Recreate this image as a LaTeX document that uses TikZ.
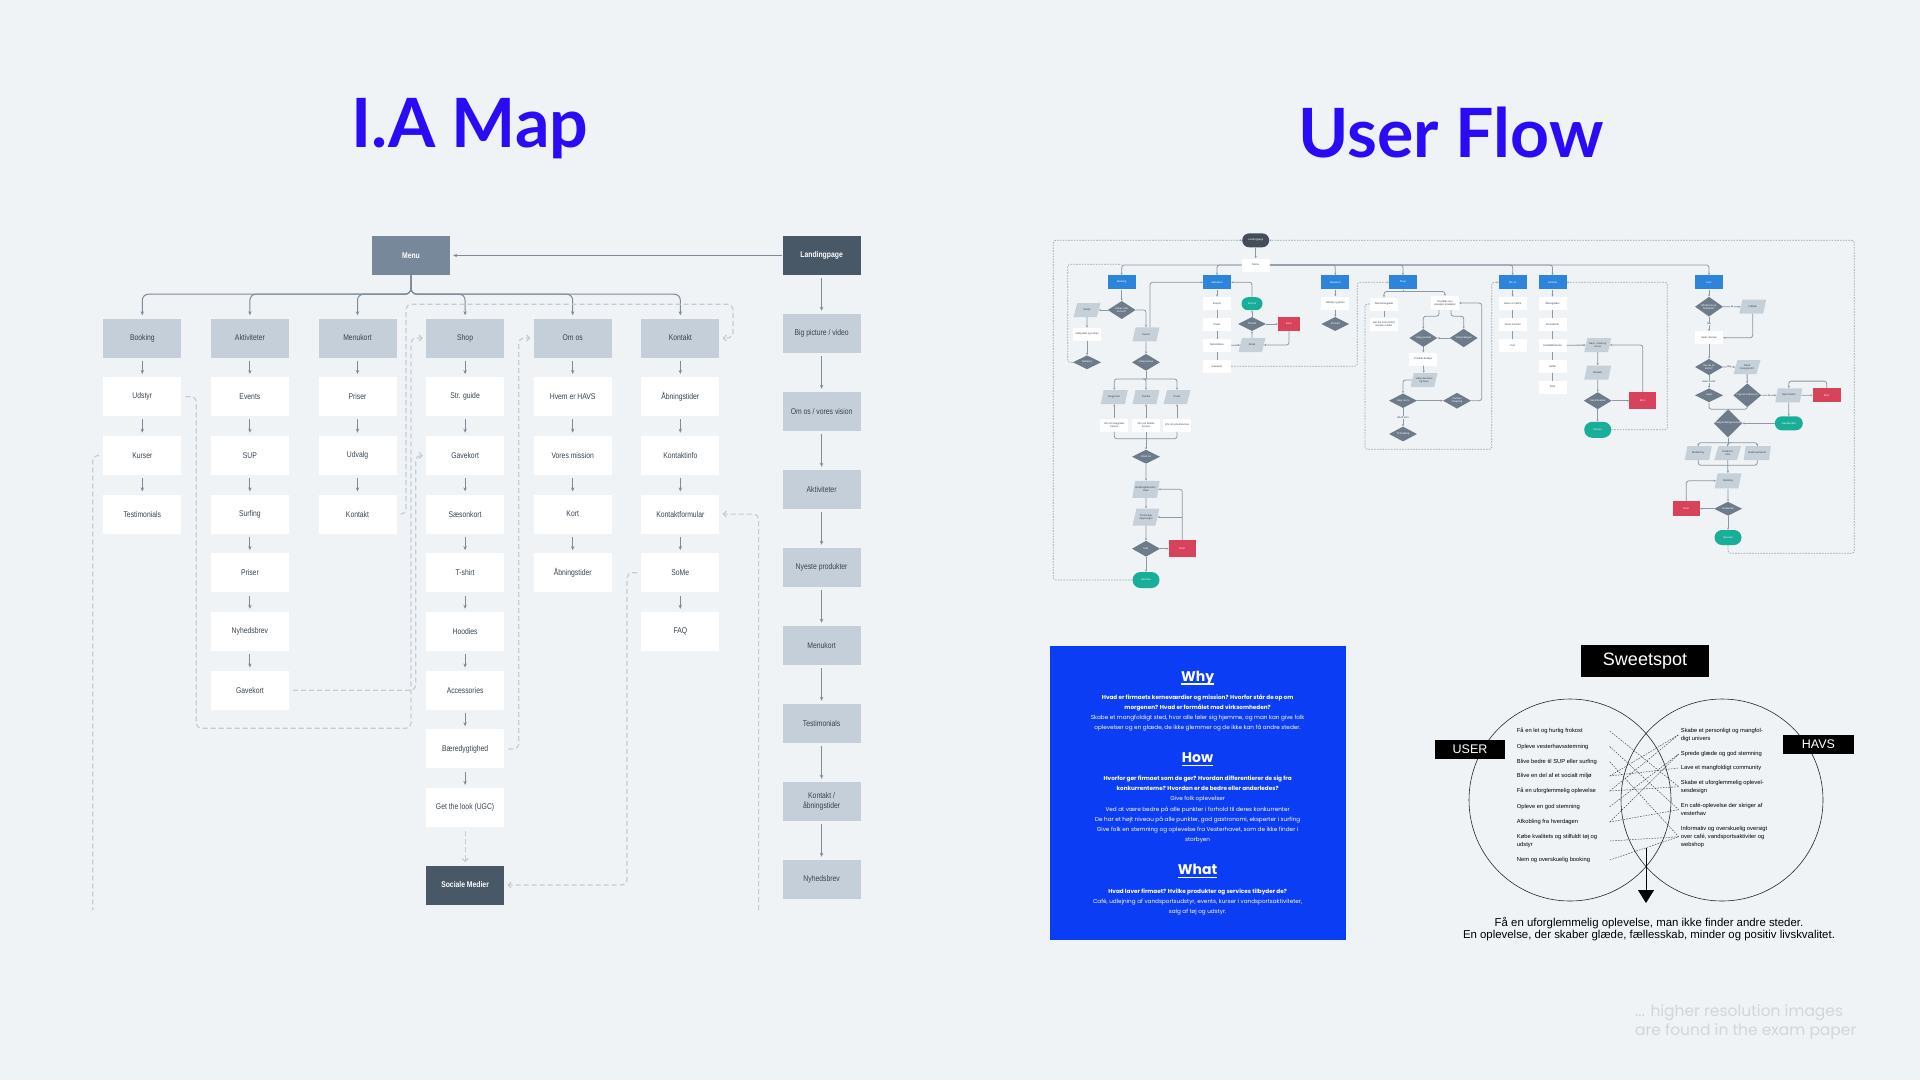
\documentclass[tikz,border=0pt]{standalone}
\usepackage{fontspec}
\setmainfont{Liberation Sans}
\newfontfamily\iafont[FakeStretch=0.82]{Liberation Sans}
\newfontfamily\titlefont{Lato}
\newfontfamily\popfont{Poppins}
\usetikzlibrary{arrows.meta,shapes.geometric,calc}

\definecolor{bgc}{HTML}{EFF3F6}
\definecolor{titleblue}{HTML}{2A0BF5}
\definecolor{hdrgray}{HTML}{C4CFD9}
\definecolor{menugray}{HTML}{77889A}
\definecolor{darkslate}{HTML}{485866}
\definecolor{linegray}{HTML}{7D8B99}
\definecolor{dashgray}{HTML}{C3CDD7}
\definecolor{txtgray}{HTML}{36434F}
\definecolor{flowblue}{HTML}{2D84DB}
\definecolor{flowdia}{HTML}{6D7B8A}
\definecolor{flowpara}{HTML}{C6D0D9}
\definecolor{flowred}{HTML}{D6435A}
\definecolor{flowgreen}{HTML}{19AE98}
\definecolor{flowpill}{HTML}{434E59}
\definecolor{flowline}{HTML}{8C98A4}
\definecolor{flowdash}{HTML}{9AA4AE}
\definecolor{whybg}{HTML}{0B3DF5}
\definecolor{notegray}{HTML}{D2D6DB}

\newcommand{\uffont}{\fontsize{2.6}{3}\selectfont}
\newcommand{\iasize}{\iafont\fontsize{8.3}{9.8}\selectfont}

\begin{document}
\begin{tikzpicture}[x=1pt,y=-1pt,>={Stealth[length=4pt,width=3.4pt]},
	iabox/.style={rectangle, minimum width=78pt, minimum height=39pt, inner sep=1pt,
		fill=white, text=txtgray, font=\iasize, align=center},
	iahead/.style={iabox, fill=hdrgray},
	iadark/.style={iabox, fill=darkslate, text=white, font=\iasize\bfseries},
	iaarrow/.style={->, draw=linegray, line width=1pt, shorten >=3pt, shorten <=3pt},
	iadash/.style={draw=dashgray, line width=1.2pt, dash pattern=on 5pt off 3pt,
		rounded corners=5pt, shorten >=3pt, shorten <=4pt,
		-{Straight Barb[length=3pt,width=6pt]}},
	ufhd/.style={rectangle, fill=flowblue, minimum width=28pt, minimum height=14pt,
		inner sep=0.5pt, font=\uffont, text=white},
	ufbx/.style={rectangle, fill=white, minimum width=28pt, minimum height=13pt,
		inner sep=0.5pt, font=\uffont, text=txtgray, align=center},
	ufdi/.style={diamond, fill=flowdia, minimum width=28pt, minimum height=14pt,
		inner sep=0pt, font=\uffont, text=white, align=center},
	ufpa/.style={trapezium, trapezium left angle=65, trapezium right angle=115,
		trapezium stretches=true, fill=flowpara, minimum width=27pt, minimum height=14pt,
		inner sep=0.5pt, font=\uffont, text=txtgray, align=center},
	ufer/.style={rectangle, fill=flowred, minimum width=27pt, minimum height=17pt,
		inner sep=0.5pt, font=\uffont, text=white},
	ufok/.style={rectangle, rounded corners=8pt, fill=flowgreen, minimum width=27pt,
		minimum height=16pt, inner sep=0.5pt, font=\uffont, text=white},
	ufpill/.style={rectangle, rounded corners=7pt, fill=flowpill, minimum width=27pt,
		minimum height=14pt, inner sep=0.5pt, font=\uffont, text=white},
	uflb/.style={fill=bgc, inner sep=0.4pt, font=\uffont, text=txtgray},
	ufln/.style={draw=flowline, line width=0.8pt, rounded corners=2.5pt},
	ufar/.style={ufln, -{Stealth[length=2.2pt,width=2pt]}},
	ufds/.style={draw=flowdash, line width=0.7pt, dash pattern=on 1.6pt off 1.2pt,
		rounded corners=2.5pt, -{Stealth[length=2pt,width=2pt]}},
	vtxt/.style={anchor=west, inner sep=0pt, align=left, font=\fontsize{5.8}{7.8}\selectfont},
	vdash/.style={draw=black!75, line width=0.45pt, dash pattern=on 1.6pt off 1.2pt},
	tag/.style={fill=black, text=white, inner sep=0pt}]
	
	\useasboundingbox (0,0) rectangle (1920,1080);
	\fill[bgc] (0,0) rectangle (1920,1080);
	
	%----------------------------
	% Titles
	%----------------------------
	\node[anchor=base, inner sep=0pt, text=titleblue, font=\titlefont\bfseries\fontsize{68}{70}\selectfont]
		(iatitle) at (470,147) {I.A Map};
	\node[anchor=base, inner sep=0pt, text=titleblue, font=\titlefont\bfseries\fontsize{68}{70}\selectfont]
		(uftitle) at (1451,157) {User Flow};
	
	%----------------------------
	% Left: I.A map
	%----------------------------
	\node[iabox, fill=menugray, text=white, font=\iasize\bfseries] (menu) at (411,255.5) {Menu};
	\node[iadark] (land) at (821.6,255.5) {Landingpage};
	\draw[iaarrow, shorten <=0pt] (land) -- (menu);
	
	% columns under the menu
	\node[iahead] (bk0) at (142.3,338) {Booking};
	\foreach \t [count=\i] in {Udstyr,Kurser,Testimonials}
		\node[iabox] (bk\i) at (142.3,338+58.7*\i) {\t};
	\foreach \i [evaluate=\i as \j using int(\i+1)] in {0,...,2}
		\draw[iaarrow] (bk\i) -- (bk\j);
	
	\node[iahead] (ak0) at (249.9,338) {Aktiviteter};
	\foreach \t [count=\i] in {Events,SUP,Surfing,Priser,Nyhedsbrev,Gavekort}
		\node[iabox] (ak\i) at (249.9,338+58.7*\i) {\t};
	\foreach \i [evaluate=\i as \j using int(\i+1)] in {0,...,5}
		\draw[iaarrow] (ak\i) -- (ak\j);
	
	\node[iahead] (mk0) at (357.5,338) {Menukort};
	\foreach \t [count=\i] in {Priser,Udvalg,Kontakt}
		\node[iabox] (mk\i) at (357.5,338+58.7*\i) {\t};
	\foreach \i [evaluate=\i as \j using int(\i+1)] in {0,...,2}
		\draw[iaarrow] (mk\i) -- (mk\j);
	
	\node[iahead] (sh0) at (465.1,338) {Shop};
	\foreach \t [count=\i] in {Str. guide,Gavekort,Sæsonkort,T-shirt,Hoodies,Accessories,Bæredygtighed,Get the look (UGC)}
		\node[iabox] (sh\i) at (465.1,338+58.7*\i) {\t};
	\foreach \i [evaluate=\i as \j using int(\i+1)] in {0,...,7}
		\draw[iaarrow] (sh\i) -- (sh\j);
	\node[iadark] (soc) at (465.1,885) {Sociale Medier};
	
	\node[iahead] (om0) at (572.7,338) {Om os};
	\foreach \t [count=\i] in {Hvem er HAVS,Vores mission,Kort,Åbningstider}
		\node[iabox] (om\i) at (572.7,338+58.7*\i) {\t};
	\foreach \i [evaluate=\i as \j using int(\i+1)] in {0,...,3}
		\draw[iaarrow] (om\i) -- (om\j);
	
	\node[iahead] (kt0) at (680.3,338) {Kontakt};
	\foreach \t [count=\i] in {Åbningstider,Kontaktinfo,Kontaktformular,SoMe,FAQ}
		\node[iabox] (kt\i) at (680.3,338+58.7*\i) {\t};
	\foreach \i [evaluate=\i as \j using int(\i+1)] in {0,...,4}
		\draw[iaarrow] (kt\i) -- (kt\j);
	
	% menu tree
	\foreach \c in {bk0,ak0,mk0,sh0,om0,kt0}
		\draw[iaarrow, rounded corners=6pt, shorten <=0pt] (menu.south) -- ++(0,19) -| (\c.north);
	
	% landing page column
	\foreach \t [count=\i] in {Big picture / video,Om os / vores vision,Aktiviteter,Nyeste produkter,Menukort,Testimonials,{Kontakt /\\åbningstider},Nyhedsbrev}
		\node[iahead] (lp\i) at (821.6,255.5+78*\i) {\t};
	\draw[iaarrow] (land) -- (lp1);
	\foreach \i [evaluate=\i as \j using int(\i+1)] in {1,...,7}
		\draw[iaarrow] (lp\i) -- (lp\j);
	
	% dashed cross links
	\coordinate (bkout) at (92.8,910);
	\coordinate (ktout) at (758.6,910);
	\draw[iadash] (bk1.east) -| (196.3,728.3) -| (411,338) -- (sh0.west);
	\draw[iadash] (ak6.east) -| (415.7,455.4) -- (sh2.west);
	\draw[iadash] (mk3.east) -| (406,304.3) -| (733,338) -- (kt0.east);
	\draw[iadash] (sh7.east) -| (518.8,338) -- (om0.west);
	\draw[iadash] (kt4.west) -| (627,885) -- (soc.east);
	\draw[iadash] (sh8) -- (soc);
	\draw[iadash, -, shorten >=0pt] (bk2.west) -| (bkout);
	\draw[iadash, shorten <=0pt] (ktout) |- (kt3.east);
	
	%----------------------------
	% Right top: user flow
	%----------------------------
	\node[ufpill] (lp) at (1255.7,240.3) {Landingpage};
	\node[ufbx] (mn) at (1255.7,265) {Menu};
	\draw[ufar] (lp) -- (mn);
	\node[ufhd] (hbk) at (1121.7,282.3) {Booking};
	\node[ufhd] (hak) at (1217,282.3) {Aktiviteter};
	\node[ufhd] (hmk) at (1335.3,282.3) {Menukort};
	\node[ufhd] (hsh) at (1403,282.3) {Shop};
	\node[ufhd] (hom) at (1512.7,282.3) {Om os};
	\node[ufhd] (hkt) at (1552.5,282.3) {Kontakt};
	\node[ufhd] (hkv) at (1709,282.3) {Kurv};
	\foreach \h in {hbk,hak}
		\draw[ufar] (mn.west) -| (\h.north);
	\foreach \h in {hmk,hsh,hom,hkt,hkv}
		\draw[ufar] (mn.east) -| (\h.north);
	
	% booking
	\node[ufdi] (bkd1) at (1121.7,310) {Udstyr eller\\kursus?};
	\node[ufpa] (bkp1) at (1087,310) {Udstyr};
	\node[ufbx] (bkb1) at (1087,334.3) {Vælg dato og udstyr};
	\node[ufdi] (bkd2) at (1087,362.3) {Betaling};
	\node[ufpa] (bkp2) at (1146,334.3) {Kurser};
	\node[ufdi] (bkd3) at (1146,362.3) {Vælg kursus};
	\node[ufpa] (bkq1) at (1114.3,397) {Begynder};
	\node[ufpa] (bkq2) at (1146,397) {Familie};
	\node[ufpa] (bkq3) at (1177,397) {Privat};
	\node[ufbx] (bkw1) at (1114.3,425) {Info om begynder\\kursus};
	\node[ufbx] (bkw2) at (1146,425) {Info om familie\\kursus};
	\node[ufbx] (bkw3) at (1177,425) {Info om privat kursus};
	\node[ufdi] (bkd4) at (1146,456.7) {Book tid};
	\node[ufpa, minimum height=17pt] (bkp3) at (1146,489.3) {Bookingkalender /\\Dato};
	\node[ufpa, minimum height=17pt] (bkp4) at (1146,517) {Personlige\\oplysninger};
	\node[ufdi, minimum height=16pt] (bkd5) at (1146,548.7) {Køb};
	\node[ufer] (bker) at (1182.3,548.7) {Error};
	\node[ufok] (bkok) at (1146,580) {Success};
	\draw[ufar] (hbk) -- (bkd1);
	\draw[ufar] (bkd1) -- (bkp1);
	\draw[ufar] (bkp1) -- (bkb1);
	\draw[ufar] (bkb1) -- (bkd2);
	\draw[ufds, -] (bkd2.west) -| (1067.7,264.3) -- (1121.7,264.3);
	\draw[ufar] (bkd1.east) -| (bkp2.north);
	\draw[ufar] ([xshift=4pt]bkp2.north) |- (hak.west);
	\draw[ufar] (bkp2) -- (bkd3);
	\draw[ufln] (bkd3.south) -- ++(0,8) coordinate (bkbr);
	\foreach \q in {bkq1,bkq2,bkq3}
		\draw[ufar] (bkbr) -| (\q.north);
	\foreach \i in {1,2,3}
		\draw[ufar] (bkw\i) -- (bkq\i);
	\draw[ufln] (bkw1.south) -- ++(0,7) -| (bkw3.south);
	\draw[ufar] (bkw2.south) -- (bkd4);
	\draw[ufar] (bkd4) -- (bkp3);
	\draw[ufar] (bkp3) -- (bkp4);
	\draw[ufar] (bkp4) -- (bkd5);
	\draw[ufar] (bkd5) -- (bker);
	\draw[ufar] (bker.north) |- (bkp3.east);
	\draw[ufar] (bker.north |- bkp4.east) -- (bkp4.east);
	\draw[ufar] (bkd5) -- (bkok);
	\draw[ufds] (bkok.west) -| (1053.3,240.3) -- (lp.west);
	
	% aktiviteter
	\foreach \t [count=\i] in {Events,Priser,Nyhedsbrev,Gavekort}
		\node[ufbx] (akw\i) at (1217,282.3+21*\i) {\t};
	\draw[ufar] (hak) -- (akw1);
	\foreach \i/\j in {1/2,2/3,3/4}
		\draw[ufln] (akw\i) -- (akw\j);
	\node[ufok, minimum width=21pt, minimum height=13pt, rounded corners=6.5pt] (akok) at (1252,303.7) {Succes};
	\node[ufdi] (akd) at (1252,324) {Tilmeld};
	\node[ufer, minimum width=22pt, minimum height=14pt] (aker) at (1289,324) {Error};
	\node[ufpa] (akp) at (1252,345) {Email};
	\draw[ufar] (akok.north) |- (hak.east);
	\draw[ufar] (akd) -- (akok);
	\draw[ufar] (akd) -- (aker);
	\draw[ufar] (akp) -- (akd);
	\draw[ufar] (akw3) -- (akp);
	\draw[ufar] (aker.south) |- (akp.east);
	\draw[ufds] (akw4.east) -| (1357.3,282.3) -- (hsh.west);
	
	% menukort
	\node[ufbx] (mkw) at (1335.3,303) {Udvalg og priser};
	\node[ufdi] (mkd) at (1335.3,324) {Kontakt};
	\draw[ufar] (hmk) -- (mkw);
	\draw[ufar] (mkw) -- (mkd);
	
	% shop
	\node[ufbx] (shw1) at (1384,304) {Størrelsesguide};
	\node[ufbx, minimum height=14pt] (shw2) at (1445,303) {Overblik over\\udvalgte produkter};
	\node[ufbx] (shw3) at (1384,324) {Get the look (UGC)\\Sociale medier};
	\node[ufdi] (shd1) at (1423.3,338) {Vælg produkt};
	\node[ufdi] (shd2) at (1463.7,338) {Vælg kategori};
	\node[ufbx] (shw4) at (1423.3,359) {Produkt detaljer};
	\node[ufpa] (shp1) at (1424,380) {Vælg størrelse\\og farve};
	\node[ufdi] (shd3) at (1403,400.7) {Læg i kurv};
	\node[ufdi] (shd4) at (1457,400.7) {Fortsæt\\shopping};
	\node[uflb] (shtx) at (1403,417.3) {Gå til kurv};
	\node[ufdi] (shd5) at (1403,434) {Til betaling};
	\draw[ufln] (hsh.south) -- ++(0,2) coordinate (shbr);
	\draw[ufar] (shbr) -| (shw1.north);
	\draw[ufar] (shbr) -| (shw2.north);
	\draw[ufln] (shw1) -- (shw3);
	\draw[ufar] ([xshift=-6pt]shw2.south) -- ++(0,6) -| (shd1.north);
	\draw[ufar] ([xshift=6pt]shw2.south) -- ++(0,6) -| (shd2.north);
	\draw[ufar] (shd2) -- (shd1);
	\draw[ufar] (shd1) -- (shw4);
	\draw[ufar] (shw4) -- (shp1);
	\draw[ufar] (shp1.west) -| (shd3.north);
	\draw[ufar] (shd3) -- (shd4);
	\draw[ufar] (shd4.east) -| (1481.7,303) -- (shw2.east);
	\draw[ufln] (shd3) -- (shtx);
	\draw[ufar] (shtx) -- (shd5);
	\draw[ufds] (shw1.west) -| (1365,449.3) -| (1491.7,282.3) -- (hom.west);
	
	% om os
	\foreach \t [count=\i] in {Hvem er HAVS,Vores mission,Kort}
		\node[ufbx] (omw\i) at (1512.7,282.3+21*\i) {\t};
	\draw[ufar] (hom) -- (omw1);
	\foreach \i/\j in {1/2,2/3}
		\draw[ufln] (omw\i) -- (omw\j);
	
	% kontakt
	\foreach \t [count=\i] in {Åbningstider,Kontaktinfo,Kontaktformular,SoMe,FAQ}
		\node[ufbx] (ktw\i) at (1552.5,282.3+21*\i) {\t};
	\draw[ufar] (hkt) -- (ktw1);
	\foreach \i/\j in {1/2,2/3,3/4,4/5}
		\draw[ufln] (ktw\i) -- (ktw\j);
	\node[ufpa] (ktp1) at (1597.7,345) {Navn, email og\\emne};
	\node[ufpa] (ktp2) at (1597.7,372.5) {Besked};
	\node[ufdi] (ktd) at (1597.7,400.7) {Send besked};
	\node[ufer] (kter) at (1642.8,400.7) {Error};
	\node[ufok] (ktok) at (1597.7,429.8) {Succes};
	\draw[ufar] (ktw3) -- (ktp1);
	\draw[ufar] (ktp1) -- (ktp2);
	\draw[ufar] (ktp2) -- (ktd);
	\draw[ufar] (ktd) -- (kter);
	\draw[ufar] (kter.north) |- (ktp1.east);
	\draw[ufar] (ktd) -- (ktok);
	\draw[ufds] (ktok.east) -| (1667.3,282.3) -- (hkt.east);
	
	% kurv
	\node[ufdi] (kvd1) at (1709,306.7) {Ønsker du at\\fortsætte?};
	\node[ufpa] (kvp1) at (1752.7,306.7) {Indkøb};
	\node[ufbx] (kvw1) at (1709,337.7) {Varer i kurven};
	\node[ufdi] (kvd2) at (1709,367) {Har du en\\konto?};
	\node[ufpa] (kvp2) at (1747,367) {Opret\\brugerprofil};
	\node[ufdi] (kvd3) at (1709,395.3) {Login};
	\node[ufdi] (kvd4) at (1747.3,395.3) {Log ind med konto};
	\node[ufpa] (kvp3) at (1788.8,395.3) {Opret konto};
	\node[ufer, minimum width=28pt, minimum height=14pt] (kver1) at (1826.7,395.3) {Error};
	\node[ufok, minimum width=28pt, minimum height=14pt, rounded corners=7pt] (kvok1) at (1788.8,423.3) {Gennemført};
	\node[ufdi] (kvd5) at (1728,423.3) {Vælg betalingsmetode};
	\node[ufpa] (kvq1) at (1698.3,453) {MobilePay};
	\node[ufpa] (kvq2) at (1727.7,453) {Dankort /\\Visa};
	\node[ufpa] (kvq3) at (1757.3,453) {Bankoverførsel};
	\node[ufpa, minimum height=15pt] (kvp4) at (1728,480.8) {Betaling};
	\node[ufdi] (kvd6) at (1728,508.7) {Godkendt};
	\node[ufer, minimum height=15pt] (kver2) at (1686.3,508.7) {Error};
	\node[ufok, minimum height=15pt, rounded corners=7.5pt] (kvok2) at (1728,537.5) {Success};
	\coordinate (kvm) at (1728,409.3);
	\draw[ufar] (hkv) -- (kvd1);
	\draw[ufar] (kvd1) -- (kvp1) node[uflb, midway] {Ja};
	\draw[ufar] (kvd1) -- (kvw1) node[uflb, midway] {Nej};
	\draw[ufar] (kvp1.south) |- (kvw1.east);
	\draw[ufar] (kvw1) -- (kvd2);
	\draw[ufar] (kvd2) -- (kvp2) node[uflb, midway] {Nej};
	\draw[ufar] (kvd2) -- (kvd3) node[uflb, midway] {Uden konto};
	\draw[ufar] (kvp2) -- (kvd4);
	\draw[ufar] (kvd4) -- (kvp3) node[uflb, midway] {Ja};
	\draw[ufar] (kvp3) -- (kver1);
	\draw[ufar] (kver1.north) -- ++(0,-7) -| (kvp3.north);
	\draw[ufar] (kvp3) -- (kvok1);
	\draw[ufar] (kvok1) -- (kvd5);
	\draw[ufln] (kvd3.south) |- (kvm);
	\draw[ufln] (kvd4.south) |- (kvm);
	\draw[ufar] (kvm) -- (kvd5.north);
	\draw[ufln] (kvd5.south) -- ++(0,5) coordinate (kvbr);
	\foreach \q in {kvq1,kvq2,kvq3}
		\draw[ufar] (kvbr) -| (\q.north);
	\draw[ufln] (kvq1.south) -- ++(0,5) -| (kvq3.south);
	\draw[ufar] (kvq2.south) -- (kvp4);
	\draw[ufar] (kvp4) -- (kvd6);
	\draw[ufar] (kvd6) -- (kver2);
	\draw[ufar] (kver2.north) |- (kvp4.west);
	\draw[ufar] (kvd6) -- (kvok2);
	\draw[ufds] (kvok2.south) -- ++(0,8) -| (1854.3,240.3) -- (lp.east);
	
	%----------------------------
	% Bottom middle: why / how / what
	%----------------------------
	\fill[whybg] (1049.5,646) rectangle (1345.7,940);
	\begin{scope}[text=white]
		\node[anchor=base, inner sep=0pt, font=\popfont\bfseries\fontsize{14}{16}\selectfont] (why) at (1197.6,681) {Why};
		\node[anchor=base, inner sep=0pt, font=\popfont\bfseries\fontsize{14}{16}\selectfont] (how) at (1197.6,762.3) {How};
		\node[anchor=base, inner sep=0pt, font=\popfont\bfseries\fontsize{14}{16}\selectfont] (what) at (1197.6,874.3) {What};
		\foreach \h in {why,how,what}
			\draw[white, line width=1.3pt] ([yshift=-3pt]\h.base west) -- ([yshift=-3pt]\h.base east);
		\node[align=center, inner sep=0pt, font=\popfont\fontsize{5.7}{10}\selectfont] (whytxt) at (1197.6,712.6)
			{\textbf{Hvad er firmaets kerneværdier og mission? Hvorfor står de op om}\\
			\textbf{morgenen? Hvad er formålet med virksomheden?}\\
			Skabe et mangfoldigt sted, hvor alle føler sig hjemme, og man kan give folk\\
			oplevelser og en glæde, de ikke glemmer og de ikke kan få andre steder.};
		\node[align=center, inner sep=0pt, font=\popfont\fontsize{5.7}{10.1}\selectfont] (howtxt) at (1197.6,809.5)
			{\textbf{Hvorfor gør firmaet som de gør? Hvordan differentierer de sig fra}\\
			\textbf{konkurrenterne? Hvordan er de bedre eller anderledes?}\\
			Give folk oplevelser\\
			Ved at være bedre på alle punkter i forhold til deres konkurrenter\\
			De har et højt niveau på alle punkter, god gastronomi, eksperter i surfing\\
			Give folk en stemning og oplevelse fra Vesterhavet, som de ikke finder i\\
			storbyen};
		\node[align=center, inner sep=0pt, font=\popfont\fontsize{5.7}{10}\selectfont] (whattxt) at (1197.6,901.7)
			{\textbf{Hvad laver firmaet? Hvilke produkter og services tilbyder de?}\\
			Café, udlejning af vandsportsudstyr, events, kurser i vandsportsaktiviteter,\\
			salg af tøj og udstyr.};
	\end{scope}
	
	%----------------------------
	% Bottom right: sweetspot
	%----------------------------
	\draw[black!85, line width=0.6pt] (1570,800) circle[radius=101pt];
	\draw[black!85, line width=0.6pt] (1722,800) circle[radius=101pt];
	\node[tag, minimum width=128pt, minimum height=32pt, font=\fontsize{18}{20}\selectfont] (sweet) at (1645,661) {Sweetspot};
	\node[tag, minimum width=70pt, minimum height=19pt, font=\fontsize{12.5}{14}\selectfont] (user) at (1470,749.5) {USER};
	\node[tag, minimum width=71pt, minimum height=19pt, font=\fontsize{12.5}{14}\selectfont] (havs) at (1818.5,744.5) {HAVS};
	
	\node[vtxt] (vl1) at (1516.7,731) {Få en let og hurtig frokost};
	\node[vtxt] (vl2) at (1516.7,746.5) {Opleve vesterhavsstemning};
	\node[vtxt] (vl3) at (1516.7,761.7) {Blive bedre til SUP eller surfing};
	\node[vtxt] (vl4) at (1516.7,776) {Blive en del af et socialt miljø};
	\node[vtxt] (vl5) at (1516.7,791) {Få en uforglemmelig oplevelse};
	\node[vtxt] (vl6) at (1516.7,806.7) {Opleve en god stemning};
	\node[vtxt] (vl7) at (1516.7,822) {Afkobling fra hverdagen};
	\node[vtxt] (vl8) at (1516.7,841) {Købe kvalitets og stilfuldt tøj og\\udstyr};
	\node[vtxt] (vl9) at (1516.7,860) {Nem og overskuelig booking};
	
	\node[vtxt] (vr1) at (1680.7,734.7) {Skabe et personligt og mangfol-\\digt univers};
	\node[vtxt] (vr2) at (1680.7,754) {Sprede glæde og god stemning};
	\node[vtxt] (vr3) at (1680.7,768) {Lave et mangfoldigt community};
	\node[vtxt] (vr4) at (1680.7,786.7) {Skabe et uforglemmelig oplevel-\\sesdesign};
	\node[vtxt] (vr5) at (1680.7,809.7) {En café-oplevelse der skriger af\\vesterhav};
	\node[vtxt] (vr6) at (1680.7,836.7) {Informativ og overskuelig oversigt\\over café, vandsportsaktiviter og\\webshop};
	
	\foreach \a/\b in {1/4,2/5,3/6,4/1,4/3,5/1,5/4,6/2,7/2,7/5,8/6,9/6}
		\draw[vdash] ([xshift=93pt]vl\a.west) -- ([xshift=-2pt]vr\b.west);
	
	\coordinate (vtop) at (1646,848);
	\coordinate (vbot) at (1646,903);
	\draw[line width=0.8pt, -{Triangle[length=13pt,width=16pt]}] (vtop) -- (vbot);
	\node[align=center, inner sep=0pt, font=\fontsize{11.4}{12.5}\selectfont] (sweettxt) at (1649,929)
		{Få en uforglemmelig oplevelse, man ikke finder andre steder.\\
		En oplevelse, der skaber glæde, fællesskab, minder og positiv livskvalitet.};
	
	%----------------------------
	% Note
	%----------------------------
	\node[anchor=west, align=left, inner sep=0pt, text=notegray, font=\popfont\fontsize{15.5}{19}\selectfont]
		(note) at (1635,1022) {... higher resolution images\\are found in the exam paper};
	
\end{tikzpicture}
\end{document}
